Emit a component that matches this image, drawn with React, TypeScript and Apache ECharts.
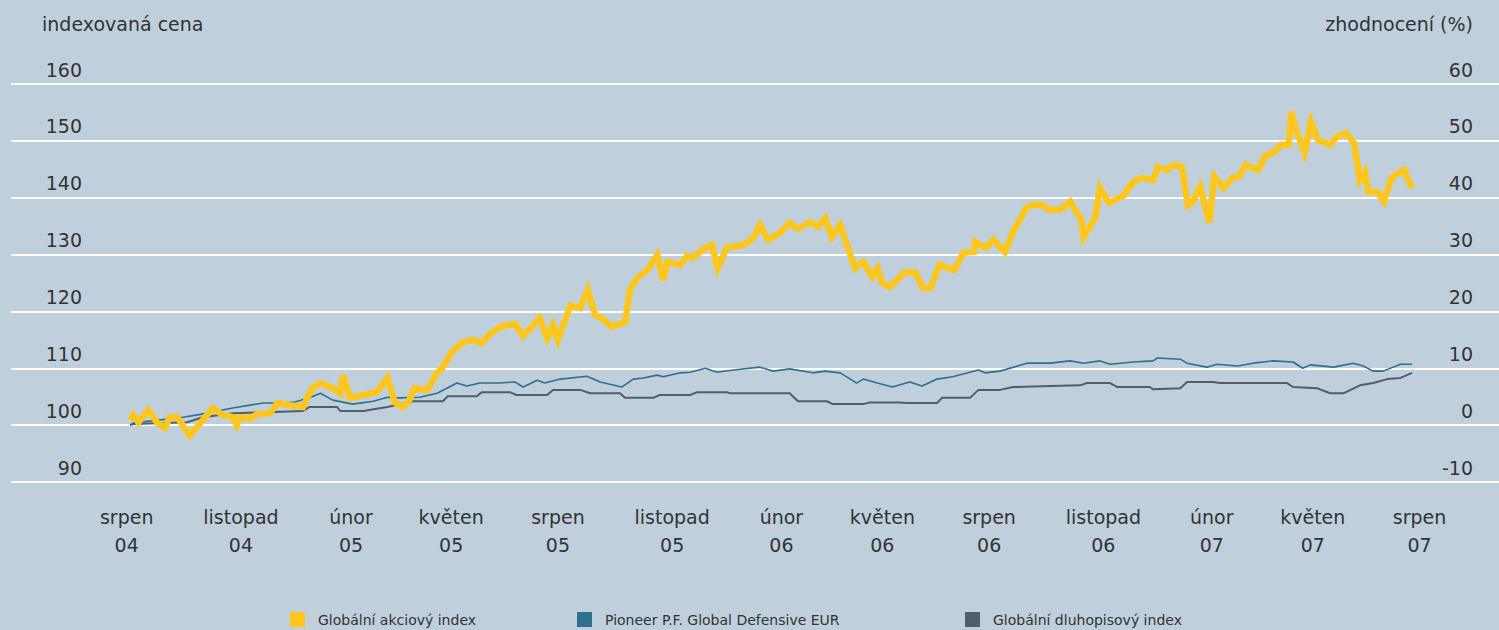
import React, { useEffect, useRef } from "react";
import * as echarts from "echarts";

// x positions are in weeks since early August 2004
const tickPos = [-0.4, 13.4, 26.7, 38.8, 51.7, 65.5, 78.7, 90.9, 103.8, 117.6, 130.7, 142.9, 155.8];
const tickLabels = [
  "srpen\n04", "listopad\n04", "únor\n05", "květen\n05", "srpen\n05", "listopad\n05",
  "únor\n06", "květen\n06", "srpen\n06", "listopad\n06", "únor\n07", "květen\n07", "srpen\n07",
];

const seriesNames = ["Globální akciový index", "Pioneer P.F. Global Defensive EUR", "Globální dluhopisový index"];

// Globální akciový index [week, indexed price]
const equity: [number, number][] = [
  [0, 100.9], [0.4, 101.8], [1.0, 100.5], [2.2, 102.6], [3.3, 100.4], [4.2, 99.5], [4.8, 101.4], [5.7, 101.4],
  [7.2, 98.2], [8.8, 100.9], [10.0, 103.0], [11.2, 101.8], [12.4, 101.4], [12.9, 100.0], [13.3, 101.4], [14.5, 101.2],
  [15.3, 101.9], [16.9, 102.1], [17.8, 103.9], [19.3, 103.5], [20.9, 103.2], [22.0, 106.5], [23.0, 107.4], [24.5, 106.5],
  [25.4, 105.6], [25.7, 108.8], [26.6, 104.8], [28.2, 105.3], [29.8, 105.8], [31.1, 108.3], [32.0, 104.0], [32.9, 103.2],
  [33.6, 104.0], [34.4, 106.5], [35.9, 106.2], [37.1, 109.2], [37.8, 110.2], [38.9, 112.9], [40.2, 114.6], [41.4, 115.0],
  [42.5, 114.4], [43.3, 115.8], [44.7, 117.3], [46.5, 117.8], [47.5, 115.7], [49.5, 118.8], [50.4, 115.3], [51.1, 117.6],
  [51.7, 115.0], [53.2, 121.0], [54.4, 120.6], [55.3, 123.8], [56.2, 119.4], [57.0, 118.8], [58.2, 117.3], [59.8, 118.1],
  [60.4, 123.8], [61.3, 125.9], [62.5, 127.3], [63.7, 129.9], [64.4, 125.5], [64.9, 128.7], [66.5, 128.2], [67.3, 129.8],
  [68.0, 129.4], [69.1, 130.8], [70.3, 131.7], [71.0, 127.6], [72.1, 131.2], [74.1, 131.7], [75.3, 132.9], [76.1, 135.2],
  [77.1, 132.6], [78.5, 133.8], [79.7, 135.6], [80.7, 134.5], [82.2, 135.7], [83.1, 134.9], [84.0, 136.4], [84.8, 133.1],
  [85.8, 135.2], [87.6, 127.6], [88.6, 128.7], [89.7, 126.1], [90.3, 127.6], [90.9, 125.0], [91.8, 124.3], [93.6, 126.9],
  [94.9, 126.8], [95.8, 124.1], [96.7, 124.1], [97.8, 128.2], [99.6, 127.3], [100.7, 130.3], [102.0, 130.5], [102.1, 132.2],
  [103.4, 131.2], [104.3, 132.6], [105.7, 130.5], [106.8, 134.3], [108.3, 138.2], [109.0, 138.7], [110.2, 138.7], [111.0, 137.9],
  [112.4, 137.9], [113.6, 139.3], [114.4, 137.3], [114.9, 136.4], [115.2, 133.1], [116.6, 136.4], [117.2, 141.7], [118.3, 139.1],
  [120.0, 140.3], [121.2, 142.8], [122.3, 143.5], [123.6, 143.1], [124.2, 145.4], [125.3, 144.9], [126.1, 145.8], [127.1, 145.4],
  [127.8, 138.7], [128.4, 139.3], [129.3, 141.9], [130.4, 135.6], [131.0, 143.7], [132.1, 141.7], [133.2, 143.5], [134.0, 143.7],
  [134.8, 145.8], [136.3, 144.9], [137.1, 147.2], [138.2, 148.0], [139.1, 149.3], [140.0, 149.3], [140.3, 155.1], [140.9, 151.9],
  [141.9, 147.9], [142.7, 153.3], [143.5, 150.2], [145.0, 149.3], [145.8, 150.7], [146.9, 151.4], [147.9, 149.6], [148.6, 143.1],
  [149.2, 144.5], [149.6, 141.0], [150.7, 141.0], [151.5, 139.3], [152.4, 143.5], [153.9, 144.9], [154.9, 141.7],
];

// Pioneer P.F. Global Defensive EUR
const pioneer: [number, number][] = [
  [0, 100.0], [0.4, 100.4], [6.4, 101.4], [8.5, 101.9], [12.4, 103.0], [16.1, 103.9], [17.8, 103.9], [19.7, 104.0],
  [21.7, 104.8], [23.0, 105.6], [24.5, 104.4], [26.9, 103.7], [29.4, 104.2], [31.1, 104.9], [32.6, 104.8], [35.0, 104.9],
  [37.1, 105.6], [39.5, 107.4], [40.7, 106.9], [42.3, 107.4], [44.7, 107.4], [46.5, 107.6], [47.5, 106.7], [49.2, 107.9],
  [50.1, 107.4], [52.0, 108.1], [55.2, 108.6], [56.8, 107.6], [59.4, 106.7], [60.8, 108.1], [62.0, 108.3], [63.7, 108.8],
  [64.4, 108.5], [66.5, 109.2], [67.7, 109.3], [69.5, 110.0], [70.9, 109.3], [72.9, 109.7], [76.1, 110.2], [77.7, 109.5],
  [79.7, 109.9], [82.5, 109.2], [84.0, 109.5], [85.8, 109.2], [87.8, 107.4], [88.6, 108.1], [90.3, 107.4], [92.1, 106.7],
  [94.2, 107.6], [95.7, 106.9], [97.5, 108.1], [99.4, 108.5], [102.5, 109.7], [103.3, 109.2], [105.1, 109.5], [108.4, 110.9],
  [111.2, 110.9], [113.6, 111.3], [115.2, 110.9], [117.2, 111.3], [118.4, 110.7], [121.2, 111.1], [123.6, 111.3], [124.1, 111.8],
  [126.9, 111.6], [127.7, 110.9], [130.1, 110.2], [131.3, 110.7], [133.8, 110.4], [135.7, 110.9], [138.1, 111.3], [140.5, 111.1],
  [141.7, 110.0], [142.6, 110.6], [145.4, 110.2], [147.8, 110.9], [149.0, 110.4], [150.2, 109.5], [151.4, 109.5], [153.5, 110.7],
  [154.9, 110.7],
];

// Globální dluhopisový index
const bonds: [number, number][] = [
  [0, 100.0], [0.4, 100.2], [6.9, 100.5], [8.8, 101.4], [12.4, 102.1], [17.3, 102.3], [20.9, 102.5], [21.7, 103.2],
  [25.0, 103.2], [25.4, 102.5], [28.2, 102.5], [29.4, 102.8], [31.1, 103.2], [34.2, 104.2], [37.8, 104.2], [38.4, 105.1],
  [41.9, 105.1], [42.5, 105.8], [45.9, 105.8], [46.7, 105.3], [50.4, 105.3], [51.1, 106.2], [54.4, 106.2], [55.6, 105.6],
  [59.2, 105.6], [59.8, 104.8], [63.2, 104.8], [64.0, 105.3], [67.7, 105.3], [68.5, 105.8], [72.1, 105.8], [72.5, 105.6],
  [79.7, 105.6], [80.7, 104.2], [84.2, 104.2], [84.9, 103.7], [88.6, 103.7], [89.4, 104.0], [93.0, 104.0], [93.9, 103.9],
  [97.5, 103.9], [98.1, 104.8], [101.5, 104.8], [102.5, 106.2], [105.1, 106.2], [106.7, 106.7], [111.2, 106.9], [114.8, 107.0],
  [115.6, 107.4], [118.4, 107.4], [119.3, 106.7], [123.2, 106.7], [123.6, 106.3], [126.9, 106.5], [127.7, 107.6], [130.9, 107.6],
  [131.7, 107.4], [139.8, 107.4], [140.5, 106.7], [143.4, 106.5], [145.0, 105.6], [146.6, 105.6], [148.6, 107.0], [150.2, 107.4],
  [151.9, 108.1], [153.5, 108.3], [154.9, 109.2],
];

const COLORS = ["#ffc61e", "#2f6f8f", "#4f5f6a"];
const FONT = "DejaVu Sans";
const TEXT = "#333333";

export default function App() {
  const ref = useRef<HTMLDivElement>(null);

  useEffect(() => {
    document.body.style.margin = "0";
    if (!ref.current) return;
    const chart = echarts.init(ref.current, undefined, { renderer: "svg" });
    const legendLefts = [290, 577, 965];
    const labelBase = { fontFamily: FONT, fontSize: 19, color: TEXT };
    chart.setOption({
      animation: false,
      backgroundColor: "#bfd0dc",
      title: [
        { text: "indexovaná cena", left: 42, top: 14, padding: 0, textStyle: { ...labelBase, fontWeight: "normal" } },
        { text: "zhodnocení (%)", right: 26, top: 14, padding: 0, textStyle: { ...labelBase, fontWeight: "normal" } },
      ],
      legend: seriesNames.map((n, i) => ({
        data: [n],
        left: legendLefts[i],
        top: 612,
        padding: 0,
        icon: "rect",
        itemWidth: 15,
        itemHeight: 15,
        textStyle: { fontFamily: FONT, fontSize: 14, color: TEXT, padding: [0, 0, 0, 8] },
        selectedMode: false,
      })),
      grid: { left: 11, right: 0, top: 84, bottom: 148, outerBoundsMode: "none" },
      xAxis: {
        type: "value",
        min: -14.38,
        max: 165.4,
        axisLine: { show: false, onZero: false },
        axisTick: { show: false },
        splitLine: { show: false },
        axisLabel: {
          ...labelBase,
          customValues: tickPos,
          formatter: (v: number) => {
            const i = tickPos.findIndex((p) => Math.abs(p - v) < 0.01);
            return i >= 0 ? tickLabels[i] : "";
          },
          lineHeight: 28,
          margin: 21,
        },
      },
      yAxis: [
        {
          type: "value",
          min: 90,
          max: 160,
          interval: 10,
          axisLine: { show: false, onZero: false },
          axisTick: { show: false },
          splitLine: { lineStyle: { color: "#ffffff", width: 2 } },
          axisLabel: { ...labelBase, inside: true, margin: 71, align: "right", verticalAlign: "bottom", padding: [0, 0, 5, 0] },
        },
        {
          type: "value",
          position: "right",
          min: -10,
          max: 60,
          interval: 10,
          axisLine: { show: false, onZero: false },
          axisTick: { show: false },
          splitLine: { show: false },
          axisLabel: { ...labelBase, inside: true, margin: 26, align: "right", verticalAlign: "bottom", padding: [0, 0, 5, 0] },
        },
      ],
      series: [
        {
          name: seriesNames[2],
          type: "line",
          data: bonds,
          showSymbol: false,
          itemStyle: { color: COLORS[2] },
          lineStyle: { color: COLORS[2], width: 2 },
          z: 2,
        },
        {
          name: seriesNames[1],
          type: "line",
          data: pioneer,
          showSymbol: false,
          itemStyle: { color: COLORS[1] },
          lineStyle: { color: COLORS[1], width: 1.6 },
          z: 3,
        },
        {
          name: seriesNames[0],
          type: "line",
          data: equity,
          showSymbol: false,
          itemStyle: { color: COLORS[0] },
          lineStyle: { color: COLORS[0], width: 6.5, join: "miter", miterLimit: 4 },
          z: 4,
        },
      ],
    });
    return () => chart.dispose();
  }, []);

  return <div ref={ref} style={{ position: "fixed", left: 0, top: 0, width: 1499, height: 630 }} />;
}
